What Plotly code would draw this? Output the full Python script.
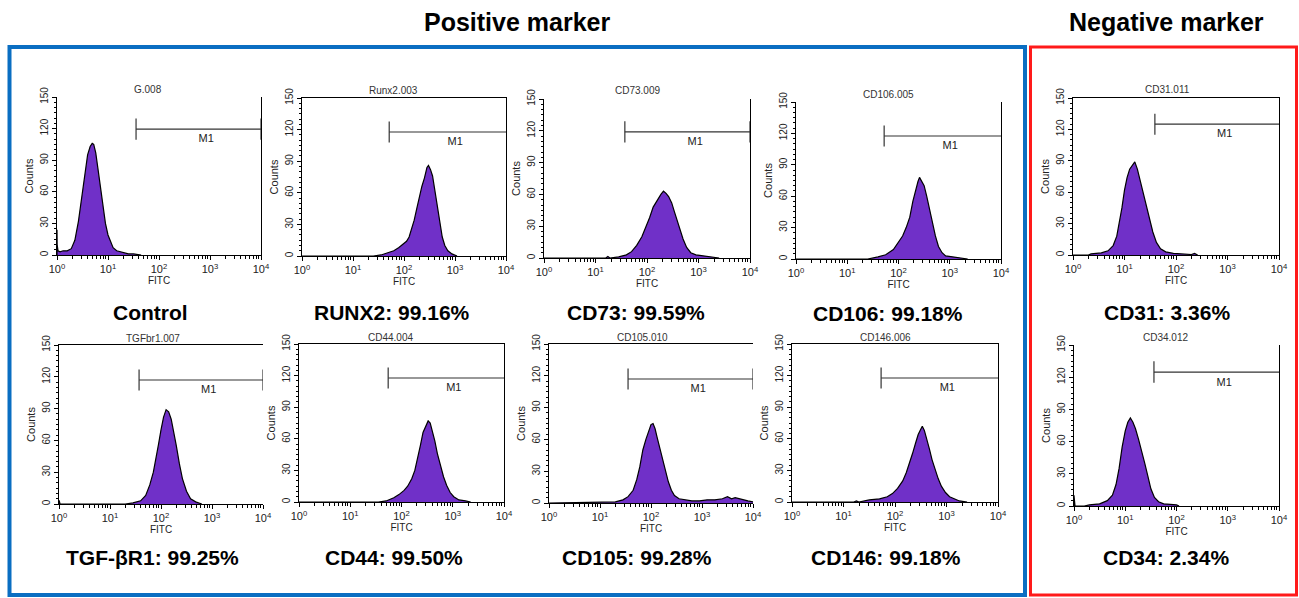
import plotly.graph_objects as go

W, H = 1299, 598

# ---------------- data (log10 FITC positions and counts) ----------------
panel_titles = ["G.008", "Runx2.003", "CD73.009", "CD106.005", "CD31.011",
                "TGFbr1.007", "CD44.004", "CD105.010", "CD146.006", "CD34.012"]
panel_labels = ["Control", "RUNX2: 99.16%", "CD73: 99.59%", "CD106: 99.18%", "CD31: 3.36%",
                "TGF-βR1: 99.25%", "CD44: 99.50%", "CD105: 99.28%", "CD146: 99.18%", "CD34: 2.34%"]

control_lx = [0, 0, 0.003, 0.02, 0.06, 0.12, 0.2, 0.28, 0.35, 0.42, 0.48, 0.55, 0.6, 0.65, 0.69, 0.72,
              0.76, 0.8, 0.85, 0.9, 0.95, 1.0, 1.05, 1.1, 1.17, 1.25, 1.32, 1.4, 1.5, 1.65]
control_ct = [0, 24, 10, 4, 3, 4, 4, 6, 14, 32, 52, 78, 95, 103, 106, 105,
              97, 83, 64, 45, 30, 19, 12, 7, 4, 3, 2, 1, 1, 0]

runx2_lx = [0, 1.4, 1.55, 1.7, 1.8, 1.9, 2.0, 2.05, 2.1, 2.15, 2.2, 2.25, 2.3, 2.35, 2.4, 2.45,
            2.48, 2.52, 2.56, 2.6, 2.65, 2.7, 2.75, 2.8, 2.86, 2.94, 3.04]
runx2_ct = [0, 0, 1, 3, 5, 8, 12, 14, 18, 26, 34, 45, 56, 66, 74, 84,
            86, 82, 76, 64, 48, 30, 18, 10, 5, 2, 0]

cd73_lx = [0, 1.2, 1.24, 1.28, 1.45, 1.6, 1.7, 1.8, 1.9, 1.97, 2.05, 2.12, 2.2, 2.27, 2.32, 2.37,
           2.42, 2.48, 2.53, 2.58, 2.64, 2.7, 2.77, 2.85, 2.95, 3.1, 3.25, 3.4]
cd73_ct = [0, 0, 1.5, 0, 1, 3, 6, 12, 20, 28, 38, 48, 55, 60, 63, 61,
           58, 52, 44, 36, 28, 18, 10, 5, 3, 2, 1, 0]

cd106_lx = [0, 1.4, 1.6, 1.75, 1.9, 2.0, 2.08, 2.15, 2.22, 2.28, 2.33, 2.38, 2.41, 2.45, 2.5,
            2.55, 2.6, 2.66, 2.72, 2.78, 2.85, 2.92, 3.05, 3.2, 3.35]
cd106_ct = [0, 0, 2, 4, 9, 16, 22, 30, 40, 55, 66, 74, 78, 75, 70,
            60, 48, 34, 22, 12, 6, 3, 2, 1, 0]

cd31_lx = [0, 0.3, 0.35, 0.55, 0.68, 0.78, 0.85, 0.9, 0.95, 1.0, 1.05, 1.1, 1.15, 1.2, 1.25,
           1.3, 1.36, 1.42, 1.48, 1.55, 1.62, 1.7, 1.8, 1.95, 2.1, 2.3, 2.36, 2.42]
cd31_ct = [0, 0, 1, 2, 4, 9, 18, 30, 45, 62, 74, 82, 86, 89, 82,
           72, 60, 48, 36, 22, 12, 6, 3, 1.5, 1, 0.5, 1.5, 0]

tgf_lx = [0, 0, 0.005, 0.02, 1.3, 1.45, 1.6, 1.7, 1.78, 1.85, 1.9, 1.95, 2.0, 2.05, 2.1, 2.15,
          2.2, 2.25, 2.3, 2.36, 2.42, 2.5, 2.58, 2.68, 2.8]
tgf_ct = [0, 3, 3, 0, 0, 1, 3, 8, 18, 30, 42, 56, 70, 82, 89, 87,
          80, 68, 55, 38, 24, 12, 5, 2, 0]

cd44_lx = [0, 1.55, 1.7, 1.85, 1.95, 2.05, 2.12, 2.2, 2.26, 2.32, 2.37, 2.42, 2.47, 2.52, 2.56,
           2.6, 2.65, 2.7, 2.76, 2.82, 2.88, 2.95, 3.02, 3.12, 3.25, 3.35]
cd44_ct = [0, 0, 1, 4, 7, 11, 15, 22, 30, 42, 54, 66, 72, 77, 75,
           68, 58, 46, 35, 24, 16, 9, 5, 2, 1, 0]

cd105_lx = [0, 1.22, 1.3, 1.45, 1.55, 1.65, 1.72, 1.78, 1.84, 1.9, 1.95, 2.0, 2.04, 2.08, 2.12,
            2.17, 2.22, 2.28, 2.34, 2.4, 2.46, 2.55, 2.65, 2.8, 2.95, 3.1, 3.25, 3.4, 3.5, 3.58,
            3.65, 3.72, 3.8, 3.9, 4.0]
cd105_ct = [0, 1, 1, 3, 6, 12, 22, 34, 50, 60, 68, 74, 75, 70, 62,
            52, 42, 30, 20, 12, 7, 4, 3, 2, 2, 3, 3, 4, 6, 4,
            5, 4, 3, 2, 1]

cd146_lx = [0, 1.2, 1.25, 1.3, 1.5, 1.7, 1.85, 1.95, 2.05, 2.15, 2.22, 2.28, 2.34, 2.4, 2.45,
            2.5, 2.53, 2.57, 2.62, 2.67, 2.72, 2.78, 2.84, 2.9, 2.98, 3.06, 3.15, 3.25, 3.4]
cd146_ct = [0, 0, 1, 0, 2, 3, 5, 8, 13, 20, 28, 36, 46, 56, 64,
            69, 72, 68, 60, 50, 40, 30, 22, 15, 9, 5, 3, 1, 0]

cd34_lx = [0, 0, 0.003, 0.02, 0.2, 0.3, 0.5, 0.65, 0.75, 0.82, 0.88, 0.94, 1.0, 1.05, 1.1, 1.15,
           1.2, 1.26, 1.32, 1.38, 1.44, 1.5, 1.57, 1.65, 1.75, 1.88, 2.0, 2.05]
cd34_ct = [0, 10, 8, 0, 0, 1, 2, 5, 10, 20, 35, 55, 70, 78, 82, 78,
           72, 62, 52, 40, 28, 16, 8, 4, 2, 1.5, 1, 0]

hist_lx = [control_lx, runx2_lx, cd73_lx, cd106_lx, cd31_lx, tgf_lx, cd44_lx, cd105_lx, cd146_lx, cd34_lx]
hist_ct = [control_ct, runx2_ct, cd73_ct, cd106_ct, cd31_ct, tgf_ct, cd44_ct, cd105_ct, cd146_ct, cd34_ct]

# M1 gate: lower bound (log10 FITC) and height (counts); upper bound is 10^4
gate_lo = [1.55, 1.71, 1.57, 1.72, 1.59, 1.57, 1.74, 1.55, 1.73, 1.56]
gate_y = [119.5, 117.7, 118.9, 117.5, 125, 117, 117.7, 117, 117.7, 124.8]
gate_right_tick = [True, False, True, False, False, True, False, True, False, False]

x_tick_vals = [1, 10, 100, 1000, 10000]
x_tick_text = ["10<sup>0</sup>", "10<sup>1</sup>", "10<sup>2</sup>", "10<sup>3</sup>", "10<sup>4</sup>"]
y_tick_vals = [0, 30, 60, 90, 120, 150]

# ---------------- layout geometry (pixels) ----------------
# left, right, top(150), bottom(0)
boxes_px = [(57, 261, 97, 255), (302, 506, 98, 256), (544, 750, 99, 258), (796, 1001, 102, 259),
            (1073, 1279, 98, 255),
            (59, 263, 345, 504), (299, 504, 344, 502), (549, 753, 344, 503), (792, 998, 344, 502),
            (1074, 1279, 345, 506)]
has_top = [False, True, False, False, True, True, True, True, True, False]
has_right = [True, True, True, True, True, False, True, False, True, True]
title_pos = [(148, 89), (393, 90), (637, 90), (888, 94), (1167, 89),
             (153, 338), (390, 337), (642, 337), (885, 337), (1165, 337)]
label_pos = [(150, 312), (392, 312), (636, 312), (888, 313), (1167, 312),
             (152, 557), (394, 557), (637, 557), (886, 557), (1166, 557)]

PURPLE = "#7030C8"
FONT = "Liberation Sans, Arial, sans-serif"

fig = go.Figure()
minor_x = [m * 10 ** d for d in range(4) for m in range(2, 10)]

for i in range(10):
    k = "" if i == 0 else str(i + 1)
    xa, ya = "x" + k, "y" + k
    l, r, t, b = boxes_px[i]
    xs = [10 ** v for v in hist_lx[i]]
    fig.add_trace(go.Scatter(x=xs, y=hist_ct[i], mode="lines", fill="tozeroy",
                             fillcolor=PURPLE, line=dict(color="black", width=1.2),
                             xaxis=xa, yaxis=ya, hoverinfo="skip", showlegend=False))
    lo = 10 ** gate_lo[i]
    gy = gate_y[i]
    gx = [lo, lo, None, lo, 10000]
    gyy = [gy - 10, gy + 10, None, gy, gy]
    if gate_right_tick[i]:
        gx += [None, 10000, 10000]
        gyy += [None, gy - 10, gy + 10]
    fig.add_trace(go.Scatter(x=gx, y=gyy, mode="lines", line=dict(color="#333333", width=1.2),
                             xaxis=xa, yaxis=ya, hoverinfo="skip", showlegend=False,
                             cliponaxis=False))
    fig.add_trace(go.Scatter(x=[10 ** ((gate_lo[i] + 4) / 2 + 0.15)], y=[gy - 10], mode="text",
                             text=["M1"], textfont=dict(family=FONT, size=11, color="#222222"),
                             xaxis=xa, yaxis=ya, hoverinfo="skip", showlegend=False))

    xdom = [l / W, r / W]
    ydom = [1 - b / H, 1 - t / H]
    fig.update_layout(**{
        "xaxis" + k: dict(domain=xdom, type="log", range=[0, 4], anchor=ya,
                          tickmode="array", tickvals=x_tick_vals, ticktext=x_tick_text,
                          ticks="outside", ticklen=4, tickcolor="black",
                          tickfont=dict(family=FONT, size=11, color="#222222"),
                          showline=True, linecolor="black", linewidth=1,
                          mirror=has_top[i], showgrid=False, zeroline=False,
                          automargin=False,
                          minor=dict(tickvals=minor_x, ticks="outside", ticklen=3,
                                     tickcolor="black", showgrid=False),
                          title=dict(text="FITC", standoff=1,
                                     font=dict(family=FONT, size=10, color="#222222"))),
        "yaxis" + k: dict(domain=ydom, range=[0, 150], anchor=xa,
                          tickmode="array", tickvals=y_tick_vals, tickangle=-90,
                          ticks="outside", ticklen=4, tickcolor="black",
                          tickfont=dict(family=FONT, size=10, color="#222222"),
                          showline=True, linecolor="black", linewidth=1,
                          mirror=has_right[i], showgrid=False, zeroline=False,
                          automargin=False,
                          minor=dict(dtick=5, ticks="outside", ticklen=2,
                                     tickcolor="black", showgrid=False),
                          title=dict(text="Counts", standoff=3,
                                     font=dict(family=FONT, size=11, color="#222222"))),
    })
    tx, ty = title_pos[i]
    fig.add_annotation(x=tx / W, y=1 - ty / H, xref="paper", yref="paper", text=panel_titles[i],
                       showarrow=False, xanchor="center", yanchor="middle",
                       font=dict(family=FONT, size=10, color="#333333"))
    lx_, ly_ = label_pos[i]
    fig.add_annotation(x=lx_ / W, y=1 - ly_ / H, xref="paper", yref="paper",
                       text="<b>" + panel_labels[i] + "</b>",
                       showarrow=False, xanchor="center", yanchor="middle",
                       font=dict(family=FONT, size=21, color="black"))

# group headers
fig.add_annotation(x=517 / W, y=1 - 22 / H, xref="paper", yref="paper", text="<b>Positive marker</b>",
                   showarrow=False, xanchor="center", yanchor="middle",
                   font=dict(family=FONT, size=25, color="black"))
fig.add_annotation(x=1166 / W, y=1 - 22 / H, xref="paper", yref="paper", text="<b>Negative marker</b>",
                   showarrow=False, xanchor="center", yanchor="middle",
                   font=dict(family=FONT, size=25, color="black"))

# frames
fig.add_shape(type="rect", xref="paper", yref="paper", x0=9.5 / W, x1=1025 / W,
              y0=1 - 595 / H, y1=1 - 47 / H, line=dict(color="#0A6EC2", width=4))
fig.add_shape(type="rect", xref="paper", yref="paper", x0=1030.5 / W, x1=1296.5 / W,
              y0=1 - 595 / H, y1=1 - 47 / H, line=dict(color="#FF1A1A", width=3))

fig.update_layout(width=W, height=H, margin=dict(l=0, r=0, t=0, b=0),
                  paper_bgcolor="white", plot_bgcolor="white", template="none",
                  showlegend=False)

fig.write_html("out.html", config={"displayModeBar": False},
               post_script="document.body.style.margin='0px';document.body.style.overflow='hidden';")
